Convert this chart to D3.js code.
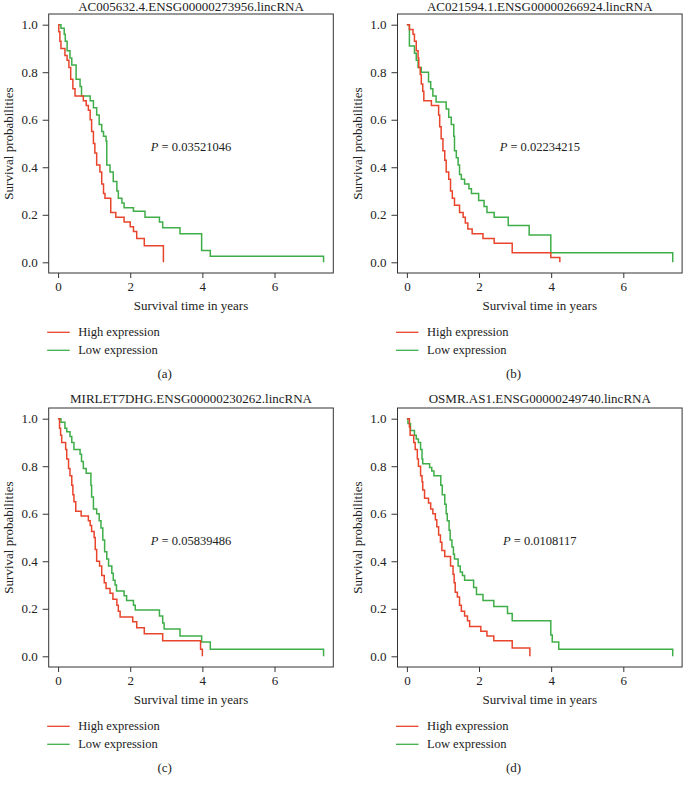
<!DOCTYPE html>
<html><head><meta charset="utf-8">
<script src="https://cdn.jsdelivr.net/npm/d3@7"></script>
<style>
html,body{margin:0;padding:0;background:#fff;}
svg{display:block;}
</style></head>
<body>
<script>
// ---------- DATA ----------
const titles = [
  "AC005632.4.ENSG00000273956.lincRNA",
  "AC021594.1.ENSG00000266924.lincRNA",
  "MIRLET7DHG.ENSG00000230262.lincRNA",
  "OSMR.AS1.ENSG00000249740.lincRNA"
];
const pValues = ["0.03521046", "0.02234215", "0.05839486", "0.0108117"];
const captions = ["(a)", "(b)", "(c)", "(d)"];
const legendLabels = ["High expression", "Low expression"];
const xTicks = [0, 2, 4, 6];
const yTicks = [0.0, 0.2, 0.4, 0.6, 0.8, 1.0];
const xLabel = "Survival time in years";
const yLabel = "Survival probabilities";

// [time in years, survival probability] at each step
const highA = [[0,1],[0.02,0.97],[0.05,0.93],[0.08,0.90],[0.19,0.87],[0.25,0.85],[0.30,0.82],[0.35,0.77],[0.41,0.73],[0.47,0.70],[0.70,0.68],[0.78,0.66],[0.84,0.64],[0.89,0.60],[0.93,0.55],[0.98,0.50],[1.02,0.46],[1.07,0.41],[1.16,0.38],[1.21,0.33],[1.26,0.29],[1.30,0.27],[1.46,0.21],[1.60,0.19],[1.83,0.17],[2.00,0.15],[2.09,0.13],[2.18,0.10],[2.39,0.07],[2.92,0.0]];
const lowA = [[0,1],[0.08,0.985],[0.17,0.96],[0.20,0.93],[0.25,0.89],[0.33,0.86],[0.38,0.83],[0.50,0.77],[0.61,0.74],[0.65,0.70],[0.89,0.68],[0.98,0.65],[1.07,0.62],[1.14,0.58],[1.21,0.55],[1.26,0.53],[1.33,0.51],[1.35,0.41],[1.44,0.38],[1.53,0.34],[1.63,0.30],[1.67,0.27],[1.77,0.25],[1.83,0.23],[2.09,0.215],[2.41,0.19],[2.81,0.17],[2.90,0.145],[3.38,0.12],[3.98,0.05],[4.22,0.025],[7.36,0.0]];

const highB = [[0,1],[0.07,0.98],[0.17,0.96],[0.21,0.93],[0.26,0.89],[0.31,0.86],[0.33,0.82],[0.37,0.79],[0.40,0.75],[0.44,0.72],[0.47,0.68],[0.68,0.66],[0.88,0.62],[0.91,0.57],[0.95,0.52],[1.00,0.47],[1.05,0.43],[1.09,0.38],[1.16,0.35],[1.21,0.30],[1.26,0.27],[1.32,0.24],[1.46,0.21],[1.56,0.19],[1.62,0.165],[1.69,0.14],[1.81,0.12],[2.11,0.10],[2.42,0.08],[2.92,0.04],[3.99,0.02],[4.24,0.0]];
const lowB = [[0,1],[0.07,0.91],[0.21,0.88],[0.26,0.85],[0.31,0.82],[0.40,0.80],[0.60,0.76],[0.66,0.73],[0.72,0.70],[0.81,0.675],[1.09,0.645],[1.16,0.61],[1.23,0.58],[1.30,0.53],[1.32,0.47],[1.37,0.44],[1.42,0.41],[1.46,0.37],[1.51,0.35],[1.60,0.33],[1.72,0.31],[1.79,0.29],[1.99,0.26],[2.14,0.235],[2.22,0.21],[2.42,0.19],[2.81,0.155],[3.39,0.115],[3.99,0.04],[7.37,0.0]];

const highC = [[0,1],[0.04,0.96],[0.07,0.93],[0.10,0.90],[0.21,0.87],[0.24,0.83],[0.29,0.79],[0.33,0.76],[0.38,0.72],[0.41,0.68],[0.44,0.65],[0.49,0.61],[0.64,0.59],[0.84,0.57],[0.89,0.55],[0.93,0.525],[1.00,0.50],[1.03,0.45],[1.07,0.40],[1.15,0.38],[1.21,0.34],[1.28,0.31],[1.33,0.285],[1.44,0.265],[1.52,0.24],[1.63,0.215],[1.67,0.19],[1.72,0.165],[2.07,0.145],[2.18,0.12],[2.39,0.095],[2.90,0.065],[3.95,0.03],[4.00,0.0]];
const lowC = [[0,1],[0.08,0.985],[0.19,0.96],[0.24,0.945],[0.33,0.925],[0.38,0.90],[0.44,0.87],[0.61,0.85],[0.65,0.82],[0.70,0.79],[0.78,0.77],[0.91,0.72],[0.93,0.67],[0.98,0.62],[1.07,0.60],[1.14,0.57],[1.19,0.54],[1.24,0.49],[1.29,0.44],[1.35,0.41],[1.40,0.38],[1.49,0.35],[1.53,0.32],[1.58,0.30],[1.62,0.275],[1.83,0.255],[1.90,0.235],[2.09,0.215],[2.14,0.195],[2.81,0.17],[2.90,0.14],[2.94,0.115],[3.38,0.085],[3.98,0.06],[4.22,0.03],[7.36,0.0]];

const highD = [[0,1],[0.07,0.965],[0.09,0.93],[0.19,0.90],[0.23,0.87],[0.29,0.83],[0.32,0.80],[0.38,0.76],[0.42,0.735],[0.44,0.70],[0.49,0.665],[0.60,0.645],[0.66,0.62],[0.72,0.60],[0.79,0.575],[0.83,0.545],[0.88,0.51],[0.93,0.48],[0.97,0.445],[1.05,0.42],[1.21,0.38],[1.28,0.345],[1.31,0.31],[1.34,0.27],[1.40,0.25],[1.46,0.215],[1.51,0.19],[1.60,0.17],[1.68,0.15],[1.74,0.125],[2.05,0.105],[2.22,0.085],[2.41,0.065],[2.92,0.035],[3.41,0.0]];
const lowD = [[0,1],[0.03,0.98],[0.10,0.95],[0.21,0.93],[0.26,0.915],[0.32,0.90],[0.38,0.87],[0.42,0.83],[0.44,0.81],[0.63,0.795],[0.69,0.78],[0.75,0.76],[0.94,0.72],[0.98,0.68],[1.05,0.64],[1.09,0.60],[1.12,0.57],[1.17,0.53],[1.20,0.49],[1.25,0.46],[1.29,0.43],[1.32,0.41],[1.42,0.38],[1.48,0.355],[1.54,0.34],[1.60,0.32],[1.85,0.29],[1.93,0.26],[2.11,0.235],[2.41,0.21],[2.79,0.18],[2.92,0.15],[3.99,0.09],[4.03,0.06],[4.21,0.03],[7.37,0.0]];

const highSeries = [highA, highB, highC, highD];
const lowSeries = [lowA, lowB, lowC, lowD];

// ---------- STYLE / LAYOUT ----------
const W = 684, H = 788;
const red = "#e8452c", green = "#3fae49";
const font = "'Liberation Serif','Times New Roman',serif";
const boxes = [{L:48.7,T:14},{L:397.5,T:14},{L:48.7,T:408},{L:397.5,T:408}];
const BW = 284.6, BH = 259;

const svg = d3.select("body").append("svg").attr("width", W).attr("height", H)
  .style("font-family", font);

boxes.forEach((b, i) => {
  const x = d3.scaleLinear().domain([-0.26, 7.63]).range([b.L, b.L + BW]);
  const y = d3.scaleLinear().domain([-0.045, 1.045]).range([b.T + BH, b.T]);
  const g = svg.append("g");
  const cx = b.L + BW / 2;

  // curves
  const line = d3.line().x(d => x(d[0])).y(d => y(d[1])).curve(d3.curveStepAfter);
  g.append("path").datum(lowSeries[i]).attr("d", line)
    .attr("fill", "none").attr("stroke", green).attr("stroke-width", 1.5);
  g.append("path").datum(highSeries[i]).attr("d", line)
    .attr("fill", "none").attr("stroke", red).attr("stroke-width", 1.5);

  // box
  g.append("rect").attr("x", b.L).attr("y", b.T).attr("width", BW).attr("height", BH)
    .attr("fill", "none").attr("stroke", "#333").attr("stroke-width", 1);

  // axes
  const xa = g.append("g").attr("transform", `translate(0,${b.T + BH})`)
    .call(d3.axisBottom(x).tickValues(xTicks).tickSize(5).tickPadding(4).tickFormat(d3.format("d")));
  xa.select(".domain").remove();
  xa.selectAll("line").attr("stroke", "#333");
  xa.selectAll("text").attr("font-size", 13).attr("font-family", font).attr("fill", "#222");

  const ya = g.append("g").attr("transform", `translate(${b.L},0)`)
    .call(d3.axisLeft(y).tickValues(yTicks).tickSize(6).tickPadding(5).tickFormat(d3.format(".1f")));
  ya.select(".domain").remove();
  ya.selectAll("line").attr("stroke", "#333");
  ya.selectAll("text").attr("font-size", 13).attr("font-family", font).attr("fill", "#222");

  // title
  g.append("text").attr("x", cx).attr("y", Math.max(b.T - 5.5, 10.5)).attr("text-anchor", "middle")
    .attr("font-size", 13).attr("fill", "#222").text(titles[i]);

  // axis labels
  g.append("text").attr("x", cx).attr("y", b.T + BH + 37).attr("text-anchor", "middle")
    .attr("font-size", 13).attr("fill", "#222").text(xLabel);
  g.append("text").attr("transform", `translate(${b.L - 36},${b.T + BH / 2}) rotate(-90)`)
    .attr("text-anchor", "middle").attr("font-size", 13).attr("fill", "#222").text(yLabel);

  // p-value
  const pt = g.append("text").attr("x", cx).attr("y", y(0.5) + 7).attr("text-anchor", "middle")
    .attr("font-size", 12.5).attr("fill", "#222");
  pt.append("tspan").attr("font-style", "italic").text("P");
  pt.append("tspan").text(" = " + pValues[i]);

  // legend
  const cols = [red, green];
  legendLabels.forEach((lab, k) => {
    const ly = b.T + BH + 59.3 + k * 18;
    g.append("line").attr("x1", b.L - 1.5).attr("x2", b.L + 21).attr("y1", ly).attr("y2", ly)
      .attr("stroke", cols[k]).attr("stroke-width", 1.3);
    g.append("text").attr("x", b.L + 29.5).attr("y", ly + 4).attr("font-size", 12.5)
      .attr("fill", "#222").text(lab);
  });

  // caption
  g.append("text").attr("x", b.L + 116).attr("y", b.T + BH + 105).attr("text-anchor", "middle")
    .attr("font-size", 13).attr("fill", "#222").text(captions[i]);
});
</script>
</body></html>
